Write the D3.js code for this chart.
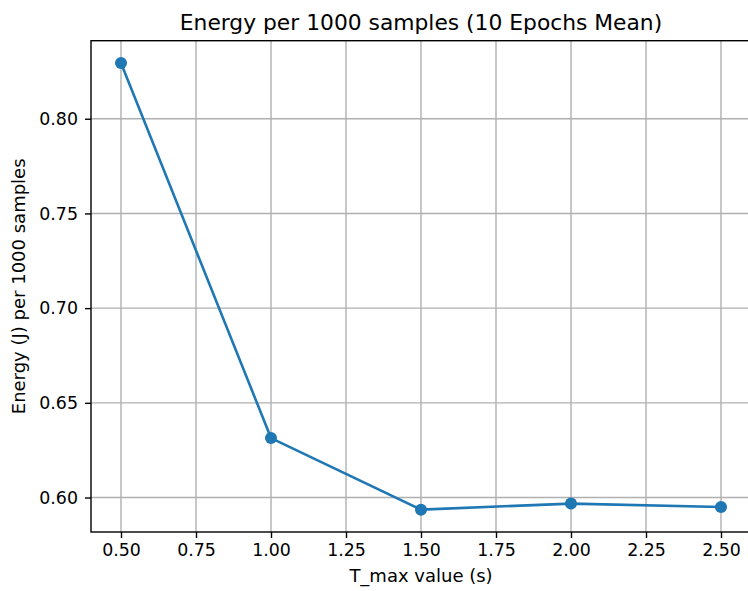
<!DOCTYPE html>
<html>
<head>
<meta charset="utf-8">
<script src="https://cdn.jsdelivr.net/npm/d3@7"></script>
<style>
  body { margin: 0; background: #fff; }
  text { font-family: "DejaVu Sans", sans-serif; fill: #000; }
</style>
</head>
<body>
<div id="chart"></div>
<script>
const W = 748, H = 591;
const margin = { left: 91, top: 40.7, right: 751, bottom: 532 };

// data
const tMax = [0.5, 1.0, 1.5, 2.0, 2.5];
const energy = [0.8294, 0.6314, 0.5936, 0.5968, 0.5950];
const xTicks = [0.5, 0.75, 1.0, 1.25, 1.5, 1.75, 2.0, 2.25, 2.5];
const yTicks = [0.60, 0.65, 0.70, 0.75, 0.80];

const svg = d3.select("#chart").append("svg")
    .attr("width", W)
    .attr("height", H);

const x = d3.scaleLinear().domain([0.4, 2.6]).range([margin.left, margin.right]);
const y = d3.scaleLinear().domain([0.5818, 0.8412]).range([margin.bottom, margin.top]);

// grid
const grid = svg.append("g");
grid.selectAll(".gx").data(xTicks).enter().append("line")
    .attr("x1", d => x(d)).attr("x2", d => x(d))
    .attr("y1", margin.top).attr("y2", margin.bottom)
    .attr("stroke", "#b0b0b0").attr("stroke-width", 1.4);
grid.selectAll(".gy").data(yTicks).enter().append("line")
    .attr("x1", margin.left).attr("x2", margin.right)
    .attr("y1", d => y(d)).attr("y2", d => y(d))
    .attr("stroke", "#b0b0b0").attr("stroke-width", 1.4);

// axes
const xAxis = svg.append("g")
    .attr("transform", `translate(0,${margin.bottom})`)
    .call(d3.axisBottom(x).tickValues(xTicks).tickFormat(d3.format(".2f")).tickSize(6).tickPadding(6));
const yAxis = svg.append("g")
    .attr("transform", `translate(${margin.left},0)`)
    .call(d3.axisLeft(y).tickValues(yTicks).tickFormat(d3.format(".2f")).tickSize(6).tickPadding(7));

[xAxis, yAxis].forEach(a => {
    a.select(".domain").remove();
    a.selectAll(".tick line").attr("stroke", "#000").attr("stroke-width", 1.4);
    a.selectAll(".tick text")
        .style("font-family", "DejaVu Sans")
        .style("font-size", "17.4px")
        .attr("fill", "#000");
});

// frame
svg.append("rect")
    .attr("x", margin.left).attr("y", margin.top)
    .attr("width", margin.right - margin.left)
    .attr("height", margin.bottom - margin.top)
    .attr("fill", "none")
    .attr("stroke", "#000").attr("stroke-width", 1.4);

// line + markers
const line = d3.line().x((d, i) => x(tMax[i])).y(d => y(d));
svg.append("path")
    .datum(energy)
    .attr("d", line)
    .attr("fill", "none")
    .attr("stroke", "#1f77b4")
    .attr("stroke-width", 2.6);

svg.selectAll(".pt").data(energy).enter().append("circle")
    .attr("cx", (d, i) => x(tMax[i]))
    .attr("cy", d => y(d))
    .attr("r", 6)
    .attr("fill", "#1f77b4");

// titles
svg.append("text")
    .attr("x", 421)
    .attr("y", 30)
    .attr("text-anchor", "middle")
    .attr("font-size", "21.8px")
    .text("Energy per 1000 samples (10 Epochs Mean)");

svg.append("text")
    .attr("x", 421)
    .attr("y", 582)
    .attr("text-anchor", "middle")
    .attr("font-size", "18px")
    .text("T_max value (s)");

svg.append("text")
    .attr("transform", `translate(25,${(margin.top + margin.bottom) / 2}) rotate(-90)`)
    .attr("text-anchor", "middle")
    .attr("font-size", "18px")
    .text("Energy (J) per 1000 samples");
</script>
</body>
</html>
